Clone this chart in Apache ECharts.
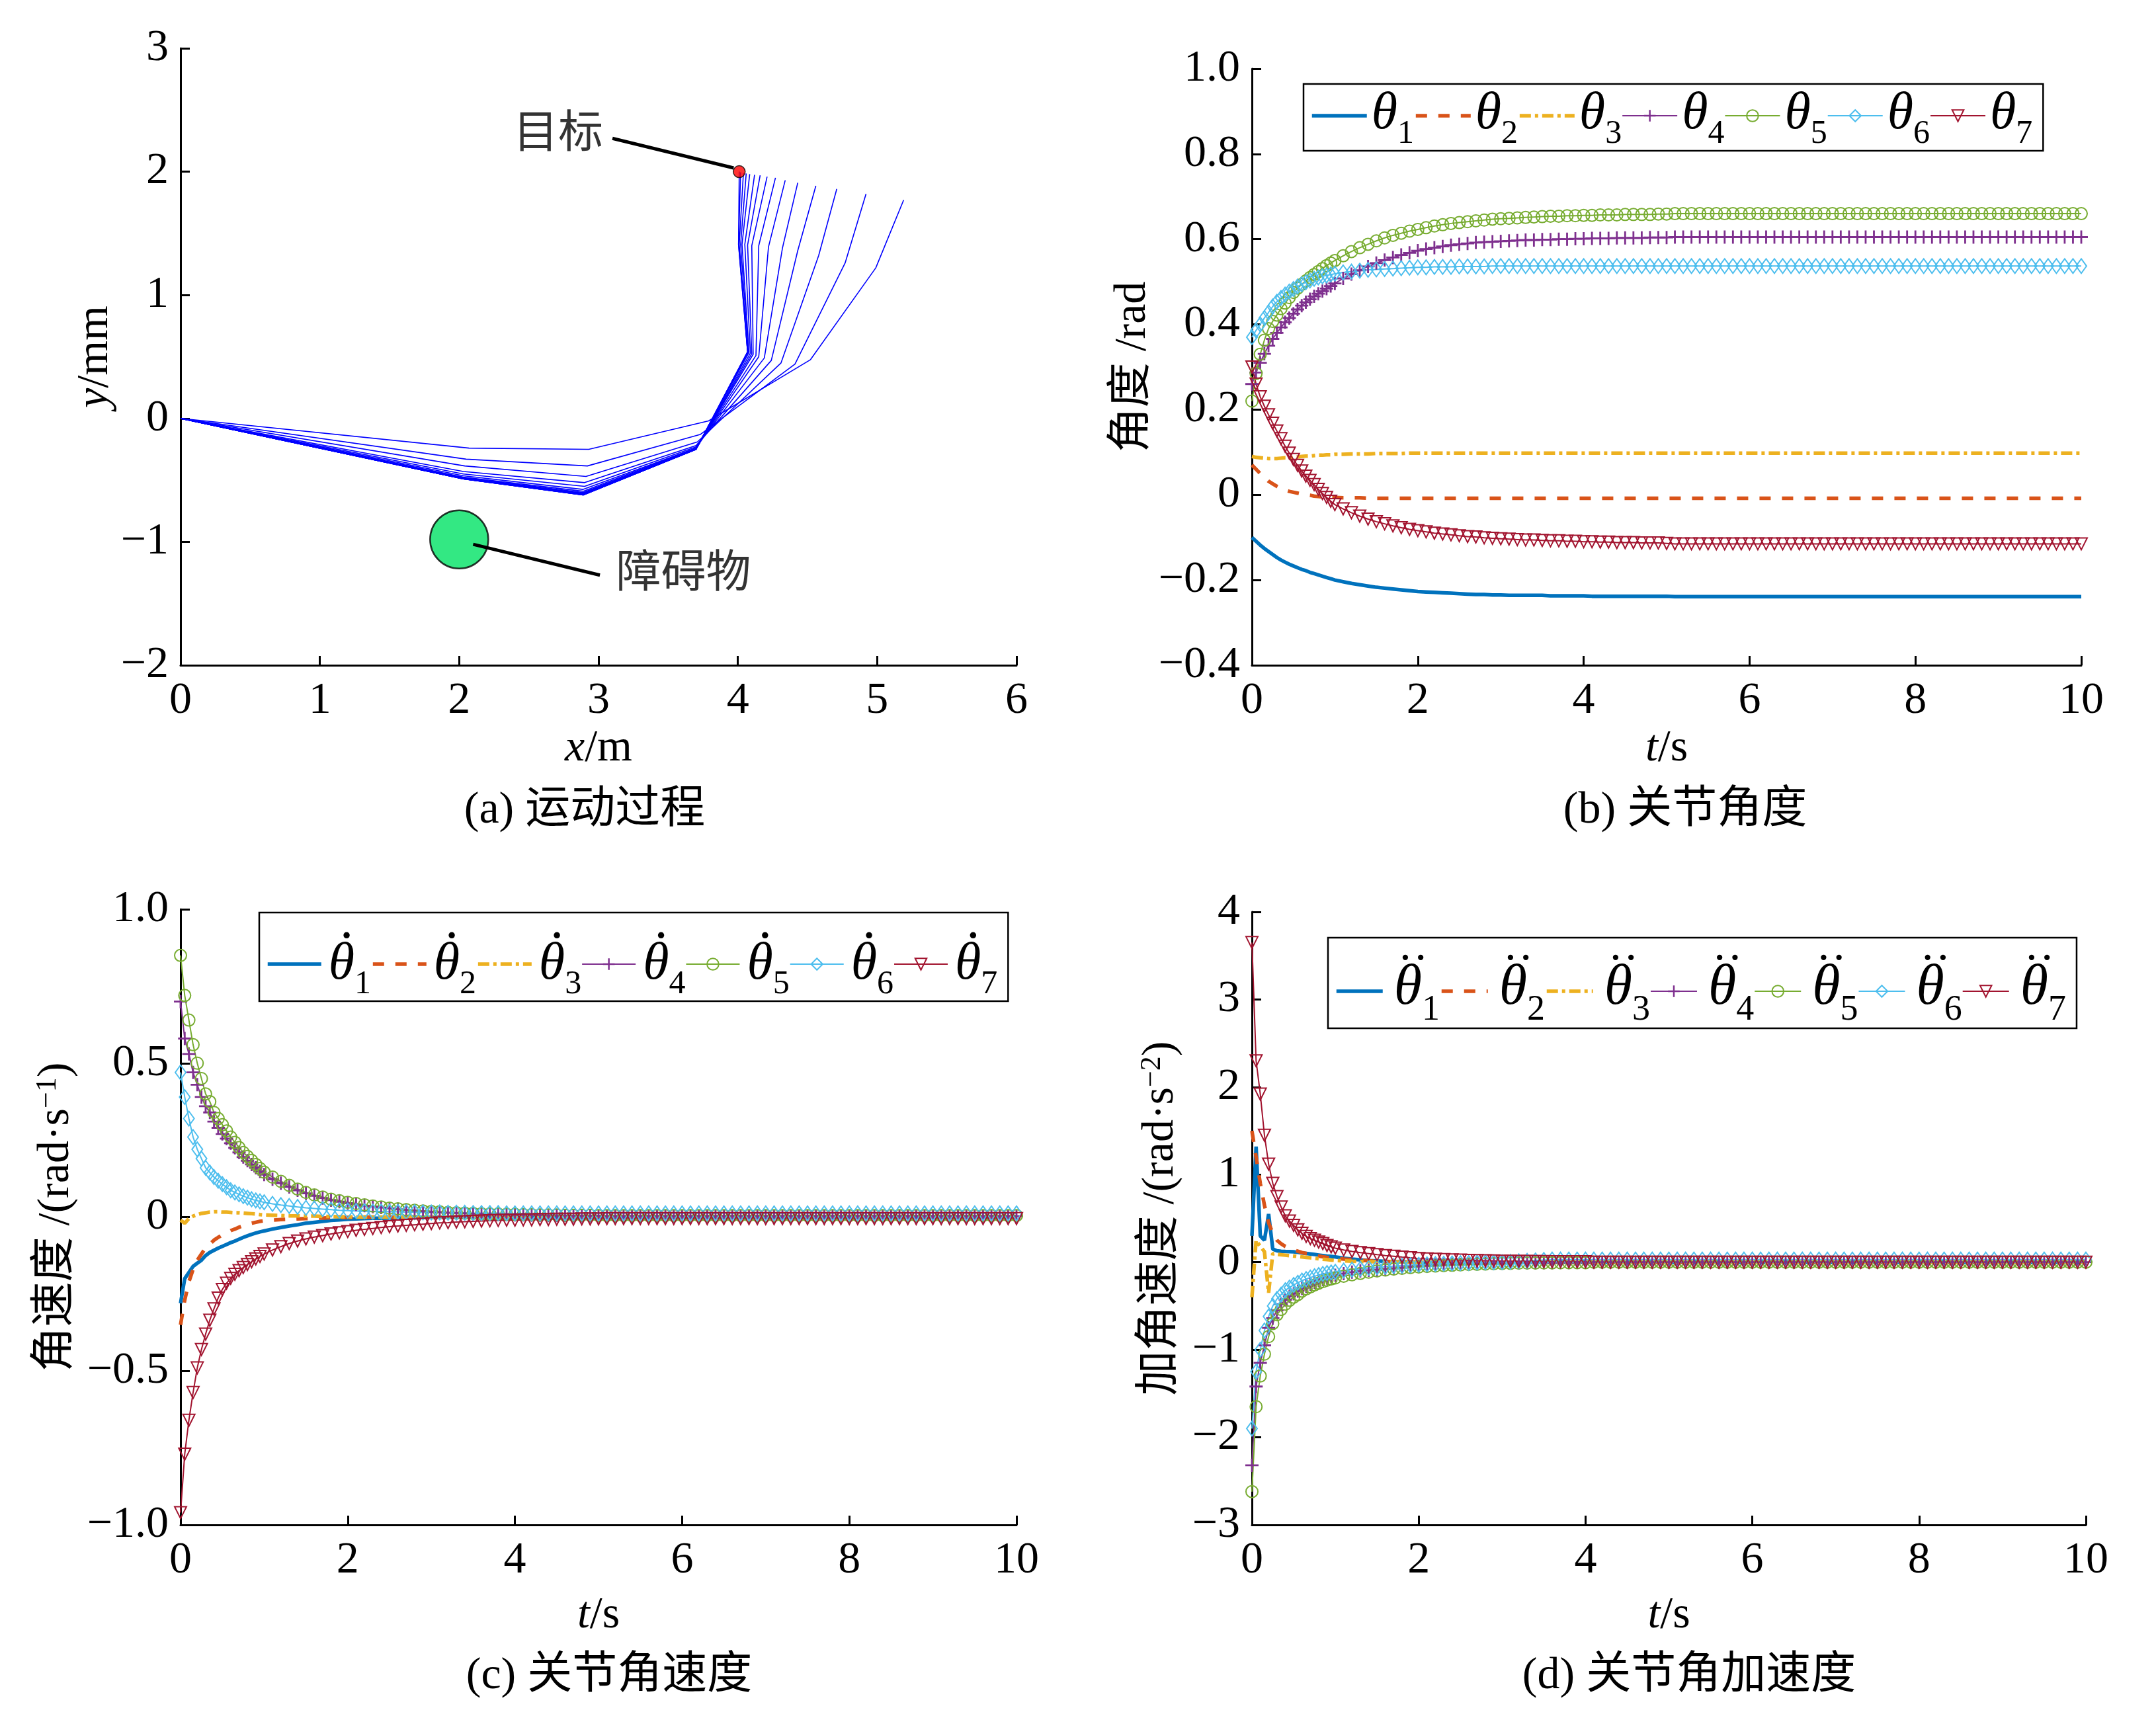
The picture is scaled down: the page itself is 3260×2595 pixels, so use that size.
<!DOCTYPE html>
<html>
<head>
<meta charset="utf-8">
<script src="https://cdn.jsdelivr.net/npm/echarts@6.0.0/dist/echarts.min.js"></script>
<style>
html, body { margin: 0; padding: 0; background: #fff; }
#main { width: 3260px; height: 2595px; }
</style>
</head>
<body>
<div id="main"></div>
<script>
// ---------- panel (a): arm poses, obstacle, target ----------
var poses = [
  [[0,0],[2.07,-0.24],[2.93,-0.25],[3.79,-0.02],[4.52,0.475],[4.99,1.22],[5.19,1.77]],
  [[0,0],[2.05,-0.33],[2.92,-0.385],[3.73,-0.13],[4.41,0.44],[4.77,1.26],[4.92,1.82]],
  [[0,0],[2.04,-0.385],[2.91,-0.47],[3.71,-0.19],[4.31,0.45],[4.58,1.32],[4.71,1.86]],
  [[0,0],[2.03,-0.43],[2.90,-0.52],[3.70,-0.22],[4.24,0.47],[4.43,1.36],[4.56,1.885]],
  [[0,0],[2.03,-0.45],[2.90,-0.55],[3.70,-0.23],[4.19,0.49],[4.32,1.38],[4.43,1.91]],
  [[0,0],[2.03,-0.465],[2.89,-0.575],[3.70,-0.24],[4.15,0.50],[4.22,1.39],[4.34,1.93]],
  [[0,0],[2.03,-0.475],[2.89,-0.59],[3.70,-0.24],[4.13,0.51],[4.15,1.40],[4.27,1.95]],
  [[0,0],[2.03,-0.48],[2.89,-0.60],[3.70,-0.245],[4.11,0.52],[4.10,1.40],[4.21,1.96]],
  [[0,0],[2.03,-0.485],[2.89,-0.605],[3.70,-0.245],[4.10,0.525],[4.07,1.405],[4.16,1.97]],
  [[0,0],[2.03,-0.487],[2.89,-0.61],[3.70,-0.25],[4.09,0.53],[4.05,1.41],[4.12,1.975]],
  [[0,0],[2.03,-0.49],[2.89,-0.615],[3.70,-0.25],[4.08,0.535],[4.03,1.41],[4.085,1.98]],
  [[0,0],[2.03,-0.49],[2.89,-0.62],[3.70,-0.25],[4.075,0.54],[4.02,1.41],[4.06,1.985]],
  [[0,0],[2.03,-0.49],[2.89,-0.62],[3.70,-0.25],[4.07,0.54],[4.01,1.41],[4.04,1.99]],
  [[0,0],[2.03,-0.49],[2.89,-0.62],[3.70,-0.25],[4.07,0.54],[4.005,1.41],[4.02,1.995]],
  [[0,0],[2.03,-0.49],[2.89,-0.62],[3.70,-0.25],[4.07,0.54],[4.005,1.41],[4.01,2.0]]
];
var obstacle = [2.0, -0.98];
var target = [4.01, 2.0];
var targetLine = [[3.10, 2.27], [3.97, 2.03]];
var obstacleLine = [[2.10, -1.02], [3.01, -1.27]];
var targetText = [2.71, 2.29];
var obstacleText = [3.61, -1.27];

// ---------- time grid shared by (b) (c) (d) ----------
var tGrid = [0,0.05,0.1,0.15,0.2,0.25,0.3,0.35,0.4,0.45,0.5,0.55,0.6,0.65,0.7,0.75,0.8,0.85,0.9,0.95,1,
  1.1,1.2,1.3,1.4,1.5,1.6,1.7,1.8,1.9,2,
  2.1,2.2,2.3,2.4,2.5,2.6,2.7,2.8,2.9,3,
  3.1,3.2,3.3,3.4,3.5,3.6,3.7,3.8,3.9,4,
  4.1,4.2,4.3,4.4,4.5,4.6,4.7,4.8,4.9,5,
  5.1,5.2,5.3,5.4,5.5,5.6,5.7,5.8,5.9,6,
  6.1,6.2,6.3,6.4,6.5,6.6,6.7,6.8,6.9,7,
  7.1,7.2,7.3,7.4,7.5,7.6,7.7,7.8,7.9,8,
  8.1,8.2,8.3,8.4,8.5,8.6,8.7,8.8,8.9,9,
  9.1,9.2,9.3,9.4,9.5,9.6,9.7,9.8,9.9,10];

// ---------- (b) joint angles ----------
var angle1 = [-0.100,-0.109,-0.118,-0.126,-0.133,-0.140,-0.147,-0.153,-0.158,-0.163,-0.167,-0.171,-0.175,-0.178,-0.182,-0.185,-0.188,-0.191,-0.194,-0.197,-0.200,
  -0.204,-0.208,-0.211,-0.214,-0.217,-0.219,-0.221,-0.223,-0.225,-0.227,
  -0.228,-0.229,-0.230,-0.231,-0.232,-0.233,-0.234,-0.234,-0.235,-0.235,
  -0.236,-0.236,-0.236,-0.236,-0.236,-0.237,-0.237,-0.237,-0.237,-0.237,
  -0.238,-0.238,-0.238,-0.238,-0.238,-0.238,-0.238,-0.238,-0.238,-0.238,
  -0.239,-0.239,-0.239,-0.239,-0.239,-0.239,-0.239,-0.239,-0.239,-0.239,
  -0.239,-0.239,-0.239,-0.239,-0.239,-0.239,-0.239,-0.239,-0.239,-0.239,
  -0.239,-0.239,-0.239,-0.239,-0.239,-0.239,-0.239,-0.239,-0.239,-0.239,
  -0.239,-0.239,-0.239,-0.239,-0.239,-0.239,-0.239,-0.239,-0.239,-0.239,
  -0.239,-0.239,-0.239,-0.239,-0.239,-0.239,-0.239,-0.239,-0.239,-0.239];
var angle2 = [0.070,0.060,0.050,0.041,0.032,0.026,0.020,0.015,0.011,0.008,0.006,0.004,0.002,0.000,-0.001,-0.003,-0.004,-0.005,-0.005,-0.006,-0.006,
  -0.007,-0.007,-0.007,-0.008,-0.008,-0.008,-0.008,-0.008,-0.008,-0.008,
  -0.008,-0.008,-0.008,-0.008,-0.008,-0.008,-0.008,-0.008,-0.008,-0.008,
  -0.008,-0.008,-0.008,-0.008,-0.008,-0.008,-0.008,-0.008,-0.008,-0.008,
  -0.008,-0.008,-0.008,-0.008,-0.008,-0.008,-0.008,-0.008,-0.008,-0.008,
  -0.008,-0.008,-0.008,-0.008,-0.008,-0.008,-0.008,-0.008,-0.008,-0.008,
  -0.008,-0.008,-0.008,-0.008,-0.008,-0.008,-0.008,-0.008,-0.008,-0.008,
  -0.008,-0.008,-0.008,-0.008,-0.008,-0.008,-0.008,-0.008,-0.008,-0.008,
  -0.008,-0.008,-0.008,-0.008,-0.008,-0.008,-0.008,-0.008,-0.008,-0.008,
  -0.008,-0.008,-0.008,-0.008,-0.008,-0.008,-0.008,-0.008,-0.008,-0.008];
var angle3 = [0.090,0.088,0.087,0.086,0.085,0.085,0.085,0.086,0.087,0.087,0.088,0.089,0.090,0.091,0.091,0.092,0.093,0.093,0.094,0.094,0.095,
  0.095,0.096,0.096,0.096,0.097,0.097,0.097,0.097,0.098,0.098,
  0.098,0.098,0.098,0.098,0.098,0.098,0.098,0.098,0.098,0.098,
  0.098,0.098,0.098,0.098,0.098,0.098,0.098,0.098,0.098,0.098,
  0.098,0.098,0.098,0.098,0.098,0.098,0.098,0.098,0.098,0.098,
  0.098,0.098,0.098,0.098,0.098,0.098,0.098,0.098,0.098,0.098,
  0.098,0.098,0.098,0.098,0.098,0.098,0.098,0.098,0.098,0.098,
  0.098,0.098,0.098,0.098,0.098,0.098,0.098,0.098,0.098,0.098,
  0.098,0.098,0.098,0.098,0.098,0.098,0.098,0.098,0.098,0.098,
  0.098,0.098,0.098,0.098,0.098,0.098,0.098,0.098,0.098,0.098];
var angle4 = [0.260,0.287,0.310,0.331,0.350,0.366,0.380,0.393,0.405,0.415,0.425,0.435,0.444,0.452,0.459,0.466,0.472,0.478,0.484,0.490,0.496,
  0.508,0.518,0.527,0.536,0.544,0.551,0.557,0.563,0.568,0.573,
  0.577,0.580,0.583,0.586,0.588,0.590,0.592,0.593,0.594,0.595,
  0.596,0.597,0.598,0.598,0.599,0.599,0.600,0.600,0.601,0.601,
  0.602,0.602,0.602,0.603,0.603,0.603,0.603,0.604,0.604,0.604,
  0.605,0.605,0.605,0.605,0.605,0.605,0.605,0.605,0.605,0.605,
  0.605,0.605,0.605,0.605,0.605,0.605,0.605,0.605,0.605,0.605,
  0.605,0.605,0.605,0.605,0.605,0.605,0.605,0.605,0.605,0.605,
  0.605,0.605,0.605,0.605,0.605,0.605,0.605,0.605,0.605,0.605,
  0.605,0.605,0.605,0.605,0.605,0.605,0.605,0.605,0.605,0.605];
var angle5 = [0.220,0.285,0.330,0.363,0.390,0.407,0.422,0.437,0.450,0.463,0.475,0.485,0.494,0.502,0.510,0.517,0.524,0.531,0.538,0.544,0.550,
  0.561,0.571,0.580,0.588,0.596,0.603,0.609,0.614,0.619,0.623,
  0.627,0.631,0.634,0.637,0.639,0.641,0.643,0.645,0.647,0.648,
  0.649,0.650,0.651,0.652,0.653,0.654,0.654,0.655,0.655,0.656,
  0.656,0.657,0.657,0.657,0.658,0.658,0.658,0.658,0.659,0.659,
  0.660,0.660,0.660,0.660,0.660,0.660,0.660,0.660,0.660,0.660,
  0.660,0.660,0.660,0.660,0.660,0.660,0.660,0.660,0.660,0.660,
  0.660,0.660,0.660,0.660,0.660,0.660,0.660,0.660,0.660,0.660,
  0.660,0.660,0.660,0.660,0.660,0.660,0.660,0.660,0.660,0.660,
  0.660,0.660,0.660,0.660,0.660,0.660,0.660,0.660,0.660,0.660];
var angle6 = [0.370,0.386,0.400,0.415,0.428,0.442,0.453,0.462,0.470,0.477,0.483,0.489,0.494,0.499,0.503,0.507,0.510,0.513,0.515,0.517,0.519,
  0.522,0.524,0.526,0.528,0.529,0.530,0.531,0.532,0.533,0.534,
  0.534,0.535,0.535,0.535,0.536,0.536,0.536,0.536,0.537,0.537,
  0.537,0.537,0.537,0.537,0.537,0.537,0.537,0.537,0.537,0.537,
  0.537,0.537,0.537,0.537,0.537,0.537,0.537,0.537,0.537,0.537,
  0.537,0.537,0.537,0.537,0.537,0.537,0.537,0.537,0.537,0.537,
  0.537,0.537,0.537,0.537,0.537,0.537,0.537,0.537,0.537,0.537,
  0.537,0.537,0.537,0.537,0.537,0.537,0.537,0.537,0.537,0.537,
  0.537,0.537,0.537,0.537,0.537,0.537,0.537,0.537,0.537,0.537,
  0.537,0.537,0.537,0.537,0.537,0.537,0.537,0.537,0.537,0.537];
var angle7 = [0.300,0.260,0.230,0.208,0.188,0.168,0.150,0.132,0.114,0.098,0.083,0.069,0.056,0.044,0.034,0.024,0.013,0.003,-0.006,-0.015,-0.023,
  -0.033,-0.042,-0.050,-0.057,-0.063,-0.068,-0.073,-0.077,-0.081,-0.084,
  -0.087,-0.090,-0.092,-0.094,-0.096,-0.098,-0.099,-0.101,-0.102,-0.103,
  -0.104,-0.105,-0.106,-0.106,-0.107,-0.108,-0.108,-0.109,-0.109,-0.110,
  -0.110,-0.111,-0.111,-0.112,-0.112,-0.112,-0.113,-0.113,-0.113,-0.114,
  -0.115,-0.115,-0.115,-0.115,-0.115,-0.115,-0.115,-0.115,-0.115,-0.115,
  -0.115,-0.115,-0.115,-0.115,-0.115,-0.115,-0.115,-0.115,-0.115,-0.115,
  -0.115,-0.115,-0.115,-0.115,-0.115,-0.115,-0.115,-0.115,-0.115,-0.115,
  -0.115,-0.115,-0.115,-0.115,-0.115,-0.115,-0.115,-0.115,-0.115,-0.115,
  -0.115,-0.115,-0.115,-0.115,-0.115,-0.115,-0.115,-0.115,-0.115,-0.115];

// ---------- (c) joint angular velocity ----------
var vel1 = [-0.280,-0.200,-0.180,-0.160,-0.150,-0.140,-0.125,-0.115,-0.108,-0.101,-0.095,-0.089,-0.083,-0.078,-0.072,-0.066,-0.061,-0.056,-0.052,-0.048,-0.045,
  -0.039,-0.034,-0.029,-0.025,-0.020,-0.017,-0.014,-0.011,-0.009,-0.007,
  -0.006,-0.005,-0.004,-0.004,-0.003,-0.003,-0.002,-0.002,-0.001,-0.001,
  0,0,0,0,0,0,0,0,0,0, 0,0,0,0,0,0,0,0,0,0, 0,0,0,0,0,0,0,0,0,0,
  0,0,0,0,0,0,0,0,0,0, 0,0,0,0,0,0,0,0,0,0, 0,0,0,0,0,0,0,0,0,0,
  0,0,0,0,0,0,0,0,0,0];
var vel2 = [-0.350,-0.270,-0.210,-0.170,-0.140,-0.120,-0.100,-0.088,-0.075,-0.066,-0.058,-0.051,-0.044,-0.039,-0.033,-0.028,-0.024,-0.020,-0.017,-0.014,-0.012,
  -0.010,-0.008,-0.007,-0.006,-0.005,-0.004,-0.003,-0.002,-0.002,-0.001,
  0,0,0,0,0,0,0,0,0,0, 0,0,0,0,0,0,0,0,0,0, 0,0,0,0,0,0,0,0,0,0,
  0,0,0,0,0,0,0,0,0,0, 0,0,0,0,0,0,0,0,0,0, 0,0,0,0,0,0,0,0,0,0,
  0,0,0,0,0,0,0,0,0,0, 0,0,0,0,0,0,0,0,0,0];
var vel3 = [-0.010,-0.020,-0.005,0.003,0.008,0.012,0.014,0.016,0.017,0.017,0.016,0.016,0.015,0.014,0.014,0.013,0.012,0.011,0.010,0.008,0.007,
  0.006,0.005,0.004,0.004,0.003,0.003,0.002,0.002,0.001,0.001,
  0,0,0,0,0,0,0,0,0,0, 0,0,0,0,0,0,0,0,0,0, 0,0,0,0,0,0,0,0,0,0,
  0,0,0,0,0,0,0,0,0,0, 0,0,0,0,0,0,0,0,0,0, 0,0,0,0,0,0,0,0,0,0,
  0,0,0,0,0,0,0,0,0,0, 0,0,0,0,0,0,0,0,0,0];
var vel4 = [0.700,0.580,0.530,0.470,0.430,0.390,0.360,0.340,0.310,0.290,0.270,0.255,0.240,0.225,0.210,0.195,0.183,0.171,0.160,0.148,0.138,
  0.123,0.110,0.098,0.087,0.077,0.069,0.062,0.055,0.050,0.045,
  0.041,0.037,0.034,0.031,0.028,0.025,0.023,0.021,0.019,0.017,
  0.016,0.014,0.013,0.012,0.011,0.010,0.009,0.008,0.008,0.007,
  0.007,0.006,0.006,0.005,0.005,0.005,0.004,0.004,0.004,0.004,
  0.003,0.003,0.003,0.003,0.003,0.003,0.003,0.003,0.003,0.003,
  0.003,0.003,0.003,0.003,0.003,0.003,0.003,0.003,0.003,0.003,
  0.003,0.003,0.003,0.003,0.003,0.003,0.003,0.003,0.003,0.003,
  0.003,0.003,0.003,0.003,0.003,0.003,0.003,0.003,0.003,0.003,
  0.003,0.003,0.003,0.003,0.003,0.003,0.003,0.003,0.003,0.003];
var vel5 = [0.850,0.720,0.640,0.560,0.500,0.450,0.400,0.375,0.340,0.320,0.300,0.280,0.260,0.243,0.226,0.210,0.197,0.184,0.171,0.158,0.146,
  0.130,0.116,0.103,0.091,0.080,0.072,0.065,0.058,0.053,0.048,
  0.044,0.040,0.036,0.033,0.029,0.027,0.024,0.022,0.020,0.018,
  0.017,0.015,0.014,0.013,0.012,0.011,0.010,0.010,0.009,0.009,
  0.008,0.008,0.007,0.007,0.007,0.006,0.006,0.006,0.006,0.005,
  0.005,0.005,0.005,0.005,0.005,0.005,0.005,0.005,0.005,0.005,
  0.005,0.005,0.005,0.005,0.005,0.005,0.005,0.005,0.005,0.005,
  0.005,0.005,0.005,0.005,0.005,0.005,0.005,0.005,0.005,0.005,
  0.005,0.005,0.005,0.005,0.005,0.005,0.005,0.005,0.005,0.005,
  0.005,0.005,0.005,0.005,0.005,0.005,0.005,0.005,0.005,0.005];
var vel6 = [0.470,0.390,0.320,0.260,0.220,0.190,0.160,0.145,0.130,0.118,0.107,0.097,0.087,0.080,0.074,0.068,0.063,0.058,0.054,0.051,0.048,
  0.043,0.039,0.036,0.033,0.030,0.028,0.026,0.024,0.022,0.021,
  0.020,0.019,0.018,0.018,0.017,0.017,0.016,0.016,0.015,0.015,
  0.015,0.014,0.014,0.014,0.013,0.013,0.013,0.013,0.012,0.012,
  0.012,0.012,0.012,0.012,0.012,0.012,0.012,0.012,0.012,0.012,
  0.012,0.012,0.012,0.012,0.012,0.012,0.012,0.012,0.012,0.012,
  0.012,0.012,0.012,0.012,0.012,0.012,0.012,0.012,0.012,0.012,
  0.012,0.012,0.012,0.012,0.012,0.012,0.012,0.012,0.012,0.012,
  0.012,0.012,0.012,0.012,0.012,0.012,0.012,0.012,0.012,0.012,
  0.012,0.012,0.012,0.012,0.012,0.012,0.012,0.012,0.012,0.012];
var vel7 = [-0.960,-0.770,-0.660,-0.570,-0.490,-0.430,-0.380,-0.335,-0.298,-0.263,-0.235,-0.215,-0.199,-0.186,-0.174,-0.164,-0.154,-0.145,-0.136,-0.128,-0.120,
  -0.107,-0.096,-0.086,-0.078,-0.071,-0.065,-0.060,-0.055,-0.051,-0.047,
  -0.043,-0.040,-0.037,-0.034,-0.031,-0.029,-0.027,-0.025,-0.023,-0.021,
  -0.019,-0.018,-0.016,-0.015,-0.014,-0.013,-0.012,-0.011,-0.010,-0.010,
  -0.009,-0.009,-0.008,-0.008,-0.007,-0.007,-0.007,-0.006,-0.006,-0.006,
  -0.005,-0.005,-0.005,-0.005,-0.005,-0.005,-0.005,-0.005,-0.005,-0.005,
  -0.005,-0.005,-0.005,-0.005,-0.005,-0.005,-0.005,-0.005,-0.005,-0.005,
  -0.005,-0.005,-0.005,-0.005,-0.005,-0.005,-0.005,-0.005,-0.005,-0.005,
  -0.005,-0.005,-0.005,-0.005,-0.005,-0.005,-0.005,-0.005,-0.005,-0.005,
  -0.005,-0.005,-0.005,-0.005,-0.005,-0.005,-0.005,-0.005,-0.005,-0.005];

// ---------- (d) joint angular acceleration ----------
var acc1 = [0.300,1.320,0.300,0.250,0.550,0.150,0.130,0.125,0.122,0.120,0.118,0.112,0.106,0.100,0.094,0.088,0.082,0.076,0.070,0.065,0.060,
  0.045,0.035,0.026,0.019,0.014,0.010,0.007,0.005,0.003,0.002,
  0,0,0,0,0,0,0,0,0,0, 0,0,0,0,0,0,0,0,0,0, 0,0,0,0,0,0,0,0,0,0,
  0,0,0,0,0,0,0,0,0,0, 0,0,0,0,0,0,0,0,0,0, 0,0,0,0,0,0,0,0,0,0,
  0,0,0,0,0,0,0,0,0,0, 0,0,0,0,0,0,0,0,0,0];
var acc2 = [1.500,1.200,0.900,0.650,0.450,0.330,0.250,0.210,0.180,0.160,0.140,0.125,0.110,0.100,0.090,0.080,0.070,0.062,0.055,0.050,0.045,
  0.036,0.029,0.023,0.017,0.012,0.009,0.006,0.004,0.002,0.001,
  0,0,0,0,0,0,0,0,0,0, 0,0,0,0,0,0,0,0,0,0, 0,0,0,0,0,0,0,0,0,0,
  0,0,0,0,0,0,0,0,0,0, 0,0,0,0,0,0,0,0,0,0, 0,0,0,0,0,0,0,0,0,0,
  0,0,0,0,0,0,0,0,0,0, 0,0,0,0,0,0,0,0,0,0];
var acc3 = [-0.400,0.250,0.180,0.120,-0.350,0.100,0.090,0.085,0.080,0.075,0.070,0.065,0.060,0.055,0.050,0.045,0.040,0.034,0.029,0.024,0.020,
  0.015,0.011,0.008,0.006,0.005,0.004,0.003,0.002,0.001,0.001,
  0,0,0,0,0,0,0,0,0,0, 0,0,0,0,0,0,0,0,0,0, 0,0,0,0,0,0,0,0,0,0,
  0,0,0,0,0,0,0,0,0,0, 0,0,0,0,0,0,0,0,0,0, 0,0,0,0,0,0,0,0,0,0,
  0,0,0,0,0,0,0,0,0,0, 0,0,0,0,0,0,0,0,0,0];
var acc4 = [-2.320,-1.420,-1.150,-0.950,-0.750,-0.640,-0.550,-0.480,-0.430,-0.390,-0.360,-0.330,-0.300,-0.275,-0.252,-0.230,-0.212,-0.196,-0.181,-0.167,-0.150,
  -0.130,-0.114,-0.101,-0.092,-0.085,-0.077,-0.069,-0.061,-0.053,-0.045,
  -0.040,-0.035,-0.031,-0.027,-0.024,-0.021,-0.018,-0.016,-0.014,-0.012,
  -0.010,-0.009,-0.008,-0.007,-0.006,-0.005,-0.004,-0.004,-0.003,-0.003,
  0,0,0,0,0,0,0,0,0,0, 0,0,0,0,0,0,0,0,0,0, 0,0,0,0,0,0,0,0,0,0,
  0,0,0,0,0,0,0,0,0,0, 0,0,0,0,0,0,0,0,0,0, 0,0,0,0,0,0,0,0,0,0];
var acc5 = [-2.620,-1.650,-1.300,-1.050,-0.850,-0.700,-0.600,-0.540,-0.480,-0.435,-0.400,-0.370,-0.330,-0.305,-0.282,-0.260,-0.240,-0.222,-0.206,-0.192,-0.180,
  -0.160,-0.143,-0.128,-0.114,-0.100,-0.089,-0.079,-0.070,-0.062,-0.055,
  -0.049,-0.044,-0.039,-0.035,-0.031,-0.027,-0.024,-0.021,-0.018,-0.015,
  -0.013,-0.012,-0.010,-0.009,-0.008,-0.007,-0.006,-0.005,-0.005,-0.005,
  0,0,0,0,0,0,0,0,0,0, 0,0,0,0,0,0,0,0,0,0, 0,0,0,0,0,0,0,0,0,0,
  0,0,0,0,0,0,0,0,0,0, 0,0,0,0,0,0,0,0,0,0, 0,0,0,0,0,0,0,0,0,0];
var acc6 = [-1.900,-1.250,-1.000,-0.780,-0.620,-0.500,-0.420,-0.370,-0.320,-0.290,-0.260,-0.235,-0.210,-0.193,-0.176,-0.160,-0.147,-0.134,-0.124,-0.117,-0.110,
  -0.096,-0.085,-0.075,-0.066,-0.058,-0.051,-0.045,-0.040,-0.035,-0.030,
  -0.025,-0.021,-0.017,-0.014,-0.011,-0.008,-0.005,-0.003,-0.001,0.000,
  0.005,0.010,0.015,0.020,0.025,0.030,0.030,0.030,0.030,0.030,
  0.030,0.030,0.030,0.030,0.030,0.030,0.030,0.030,0.030,0.030,
  0.030,0.030,0.030,0.030,0.030,0.030,0.030,0.030,0.030,0.030,
  0.030,0.030,0.030,0.030,0.030,0.030,0.030,0.030,0.030,0.030,
  0.030,0.030,0.030,0.030,0.030,0.030,0.030,0.030,0.030,0.030,
  0.030,0.030,0.030,0.030,0.030,0.030,0.030,0.030,0.030,0.030,
  0.030,0.030,0.030,0.030,0.030,0.030,0.030,0.030,0.030,0.030];
var acc7 = [3.650,2.300,1.920,1.450,1.120,0.900,0.750,0.630,0.530,0.470,0.420,0.370,0.330,0.295,0.270,0.250,0.230,0.213,0.190,0.175,0.160,
  0.140,0.123,0.110,0.098,0.086,0.076,0.067,0.058,0.050,0.042,
  0.037,0.033,0.030,0.027,0.024,0.021,0.018,0.016,0.014,0.012,
  0.011,0.010,0.009,0.008,0.007,0.006,0.006,0.005,0.005,0.005,
  0,0,0,0,0,0,0,0,0,0, 0,0,0,0,0,0,0,0,0,0, 0,0,0,0,0,0,0,0,0,0,
  0,0,0,0,0,0,0,0,0,0, 0,0,0,0,0,0,0,0,0,0, 0,0,0,0,0,0,0,0,0,0];

// ---------- styles ----------
var SERIF = '"Liberation Serif", "Noto Sans CJK SC", serif';
var FS = 68;
var plusPath = 'path://M4.3,0H5.7V4.3H10V5.7H5.7V10H4.3V5.7H0V4.3H4.3Z';
var lineStyles = [
  { color: '#0072BD', width: 5.5 },
  { color: '#D95319', width: 5.5, type: [17, 17] },
  { color: '#EDB120', width: 5.5, type: [17, 6, 5, 6] },
  { color: '#7E2F8E', width: 2, symbol: plusPath, size: 20, fill: true },
  { color: '#77AC30', width: 2, symbol: 'circle', size: 18 },
  { color: '#4DBEEE', width: 2, symbol: 'diamond', size: [16, 22] },
  { color: '#A2142F', width: 2, symbol: 'triangle', size: 18, rotate: 180 }
];

function oneDecimal(v) { return v === 0 ? '0' : v.toFixed(1).replace('-', '\u2212'); }
function integer(v) { return String(Math.round(v)).replace('-', '\u2212'); }

function valueAxis(grid, min, max, step, fmt, margin) {
  return {
    type: 'value', gridIndex: grid, min: min, max: max, interval: step,
    axisLine: { show: true, onZero: false, lineStyle: { color: '#000', width: 3 } },
    axisTick: { show: true, inside: true, length: 14, lineStyle: { color: '#000', width: 3 } },
    axisLabel: { color: '#000', fontFamily: SERIF, fontSize: FS, margin: margin, formatter: fmt },
    splitLine: { show: false },
    nameLocation: 'middle',
    nameTextStyle: {
      color: '#000', fontFamily: SERIF, fontSize: FS, lineHeight: 70,
      rich: {
        i: { fontFamily: SERIF, fontStyle: 'italic', fontSize: FS, lineHeight: 70 },
        sup: { fontFamily: SERIF, fontSize: 44, lineHeight: 44, verticalAlign: 'top' }
      }
    }
  };
}

function curveSeries(name, xi, yi, ys, st) {
  var s = {
    type: 'line', name: name, xAxisIndex: xi, yAxisIndex: yi,
    data: tGrid.map(function (t, i) { return [t, ys[i]]; }),
    symbol: st.symbol || 'none', showSymbol: !!st.symbol,
    symbolSize: st.size || 0, symbolRotate: st.rotate || 0,
    lineStyle: { color: st.color, width: st.width, type: st.type || 'solid' },
    silent: true, animation: false
  };
  if (!st.symbol || st.fill) s.itemStyle = { color: st.color };
  else s.itemStyle = { color: 'rgba(255,255,255,0)', borderColor: st.color, borderWidth: 2 };
  return s;
}

// legend: θ with a subscript; the accent dots use a zero-width token so they sit over θ
function legendFor(cfg) {
  var items = [];
  for (var k = 1; k <= 7; k++) {
    var it = { name: cfg.prefix + k };
    if (k <= 3) it.itemStyle = { opacity: 0 };
    items.push(it);
  }
  return {
    data: items, left: cfg.left, top: cfg.top, orient: 'horizontal',
    itemGap: 0, itemWidth: cfg.iconW, itemHeight: 22,
    padding: [0, 16, 0, 10],
    borderColor: '#000', borderWidth: 2.5, backgroundColor: '#fff',
    selectedMode: false,
    lineStyle: { width: 'inherit', type: 'inherit' },
    formatter: function (n) {
      return (cfg.accent ? '{d|' + cfg.accent + '}' : '') + '{t|θ}{s|' + n.slice(1) + '}';
    },
    textStyle: {
      color: '#000', fontFamily: SERIF,
      rich: {
        d: { fontFamily: SERIF, fontSize: cfg.dotSize || 80, width: 0, height: 10, lineHeight: 10,
             verticalAlign: 'top', padding: [(cfg.dotY || 5) - 5, 0, 0, 0] },
        t: { fontFamily: SERIF, fontStyle: 'italic', fontSize: cfg.thetaSize, height: cfg.thetaH, lineHeight: cfg.blockH,
             verticalAlign: 'top', padding: [cfg.thetaY - cfg.thetaH / 2, 0, 0, cfg.thetaPad] },
        s: { fontFamily: SERIF, fontSize: cfg.subSize, height: cfg.subH, lineHeight: 10,
             verticalAlign: 'top', padding: [cfg.thetaY + cfg.subDrop - cfg.subH / 2, 0, 0, 0] }
      }
    }
  };
}

var series = [];
poses.forEach(function (p) {
  series.push({
    type: 'line', xAxisIndex: 0, yAxisIndex: 0, data: p, symbol: 'none',
    lineStyle: { color: '#0000FF', width: 1.6 }, silent: true, animation: false
  });
});
series.push({
  type: 'scatter', xAxisIndex: 0, yAxisIndex: 0, data: [obstacle], symbol: 'circle', symbolSize: 88,
  itemStyle: { color: '#00E264', borderColor: '#000', borderWidth: 2.5 }, silent: true, animation: false
});
series.push({
  type: 'line', xAxisIndex: 0, yAxisIndex: 0, data: obstacleLine, symbol: 'none',
  lineStyle: { color: '#000', width: 5 }, silent: true, animation: false
});
series.push({
  type: 'line', xAxisIndex: 0, yAxisIndex: 0, data: targetLine, symbol: 'none',
  lineStyle: { color: '#000', width: 5 }, silent: true, animation: false
});
series.push({
  type: 'scatter', xAxisIndex: 0, yAxisIndex: 0, data: [target], symbol: 'circle', symbolSize: 18,
  itemStyle: { color: '#FF0000', borderColor: '#000', borderWidth: 1.5 }, silent: true, animation: false, z: 5
});
series.push({
  type: 'scatter', xAxisIndex: 0, yAxisIndex: 0, symbolSize: 1, itemStyle: { color: 'rgba(0,0,0,0)' },
  data: [{ value: targetText, name: '目标' }, { value: obstacleText, name: '障碍物' }],
  label: { show: true, position: 'inside', formatter: '{b}', color: '#000', fontFamily: SERIF, fontSize: 68 },
  silent: true, animation: false
});

var angleSets = [angle1, angle2, angle3, angle4, angle5, angle6, angle7];
var velSets = [vel1, vel2, vel3, vel4, vel5, vel6, vel7];
var accSets = [acc1, acc2, acc3, acc4, acc5, acc6, acc7];
for (var k = 0; k < 7; k++) {
  series.push(curveSeries('b' + (k + 1), 1, 1, angleSets[k], lineStyles[k]));
  series.push(curveSeries('c' + (k + 1), 2, 2, velSets[k], lineStyles[k]));
  series.push(curveSeries('d' + (k + 1), 3, 3, accSets[k], lineStyles[k]));
}

// axes
var xA = valueAxis(0, 0, 6, 1, integer, 20);
xA.name = '{i|x}/m'; xA.nameGap = 91;
var yA = valueAxis(0, -2, 3, 1, integer, 18);
yA.name = '{i|y}/mm'; yA.nameGap = 90;

var xB = valueAxis(1, 0, 10, 2, integer, 20);
xB.name = '{i|t}/s'; xB.nameGap = 91;
var yB = valueAxis(1, -0.4, 1.0, 0.2, oneDecimal, 18);
yB.name = '角度 /rad'; yB.nameGap = 116;

var xC = valueAxis(2, 0, 10, 2, integer, 20);
xC.name = '{i|t}/s'; xC.nameGap = 102;
var yC = valueAxis(2, -1.0, 1.0, 0.5, oneDecimal, 18);
yC.name = '角速度 /(rad·s{sup|\u22121})'; yC.nameGap = 153;

var xD = valueAxis(3, 0, 10, 2, integer, 20);
xD.name = '{i|t}/s'; xD.nameGap = 102;
var yD = valueAxis(3, -3, 4, 1, integer, 18);
yD.name = '加角速度 /(rad·s{sup|\u22122})'; yD.nameGap = 103;

function caption(text, x, y) {
  return {
    type: 'text', x: x, y: y, silent: true,
    style: { text: text, font: FS + 'px ' + SERIF, fill: '#000', textAlign: 'center', textVerticalAlign: 'middle' }
  };
}

var option = {
  backgroundColor: '#fff',
  animation: false,
  grid: [
    { left: 273, top: 73, width: 1264, height: 933 },
    { left: 1893, top: 104, width: 1254, height: 902 },
    { left: 273, top: 1375, width: 1264, height: 931 },
    { left: 1893, top: 1379, width: 1261, height: 927 }
  ],
  xAxis: [xA, xB, xC, xD],
  yAxis: [yA, yB, yC, yD],
  legend: [
    legendFor({ prefix: 'b', left: 1971, top: 127, accent: '', iconW: 83,
      thetaSize: 80, thetaH: 60, thetaY: 46, thetaPad: 2, subSize: 50, subH: 30, subDrop: 30, blockH: 96 }),
    legendFor({ prefix: 'c', left: 392, top: 1380, accent: ' \u00B7', dotSize: 80, dotY: 12, iconW: 81,
      thetaSize: 80, thetaH: 60, thetaY: 51, thetaPad: 6, subSize: 50, subH: 30, subDrop: 30, blockH: 100 }),
    legendFor({ prefix: 'd', left: 2008, top: 1418, accent: ' \u00B7\u00B7', dotSize: 70, dotY: 15, iconW: 70,
      thetaSize: 86, thetaH: 64, thetaY: 57, thetaPad: 12, subSize: 54, subH: 32, subDrop: 33, blockH: 122 })
  ],
  graphic: [
    caption('(a) 运动过程', 884, 1226),
    caption('(b) 关节角度', 2548, 1226),
    caption('(c) 关节角速度', 921, 2535),
    caption('(d) 关节角加速度', 2554, 2535)
  ],
  series: series
};

var chart = echarts.init(document.getElementById('main'), null, { renderer: 'canvas' });
chart.setOption(option);
</script>
</body>
</html>
